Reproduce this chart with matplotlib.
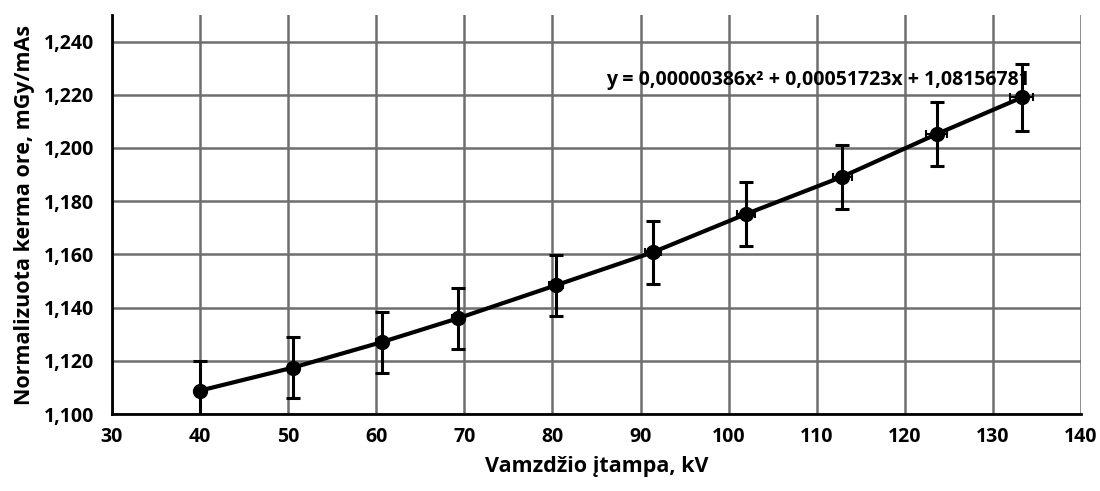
import numpy as np
import matplotlib
matplotlib.use("Agg")
from matplotlib import pyplot as plt
from matplotlib.ticker import FuncFormatter, MultipleLocator

# duomenys nuskaityti nuo paveikslo
kv = [40.0, 50.5, 60.6, 69.3, 80.4, 91.4, 102.0, 112.9, 123.6, 133.3]
kerma = [1.1088, 1.1174, 1.1270, 1.1360, 1.1484, 1.1608, 1.1752, 1.1892, 1.2052, 1.2190]
kerma_err = [0.0112, 0.0115, 0.0115, 0.0115, 0.0115, 0.0118, 0.0120, 0.0120, 0.0120, 0.0125]
kv_err = [0.4, 0.5, 0.6, 0.7, 0.8, 0.9, 1.0, 1.1, 1.2, 1.3]

equation = "y = 0,00000386x² + 0,00051723x + 1,08156781"
xlabel = "Vamzdžio įtampa, kV"
ylabel = "Normalizuota kerma ore, mGy/mAs"

plt.rcParams['font.family'] = ['Open Sans', 'DejaVu Sans']

fig = plt.figure(figsize=(11, 4.91), dpi=100)
ax = fig.add_axes([0.1018, 0.1568, 0.8809, 0.8127])

# vertikalios paklaidos + linija
ax.errorbar(kv, kerma, yerr=kerma_err, color='black', lw=3,
            marker='o', markersize=10, elinewidth=2.2, capsize=5, capthick=2.2,
            zorder=3)
# horizontalios paklaidos (mazos)
ax.errorbar(kv, kerma, xerr=kv_err, fmt='none', ecolor='black',
            elinewidth=1.5, capsize=3, capthick=1.5, zorder=3)

ax.set_xlim(30, 140)
ax.set_ylim(1.100, 1.250)
ax.xaxis.set_major_locator(MultipleLocator(10))
ax.yaxis.set_major_locator(MultipleLocator(0.02))
ax.yaxis.set_major_formatter(FuncFormatter(
    lambda v, p: ("%.3f" % v).replace('.', ',') if v < 1.245 else ""))

ax.grid(True, color='#6e6e6e', lw=1.8, zorder=0)
ax.set_axisbelow(True)
ax.spines['top'].set_visible(False)
ax.spines['right'].set_visible(False)
ax.spines['left'].set_linewidth(2)
ax.spines['bottom'].set_linewidth(2)
ax.tick_params(axis='both', length=0, labelsize=14)
ax.tick_params(axis='y', pad=13)
ax.tick_params(axis='x', pad=9)
for t in ax.get_xticklabels() + ax.get_yticklabels():
    t.set_fontweight('bold')

ax.set_xlabel(xlabel, fontsize=15.5, fontweight='bold', labelpad=7)
ax.set_ylabel(ylabel, fontsize=15.5, fontweight='bold', labelpad=6)

ax.text(86.1, 1.2255, equation, fontsize=14, fontweight='bold',
        va='center', ha='left', zorder=4)

fig.savefig("out.png", dpi=100)
